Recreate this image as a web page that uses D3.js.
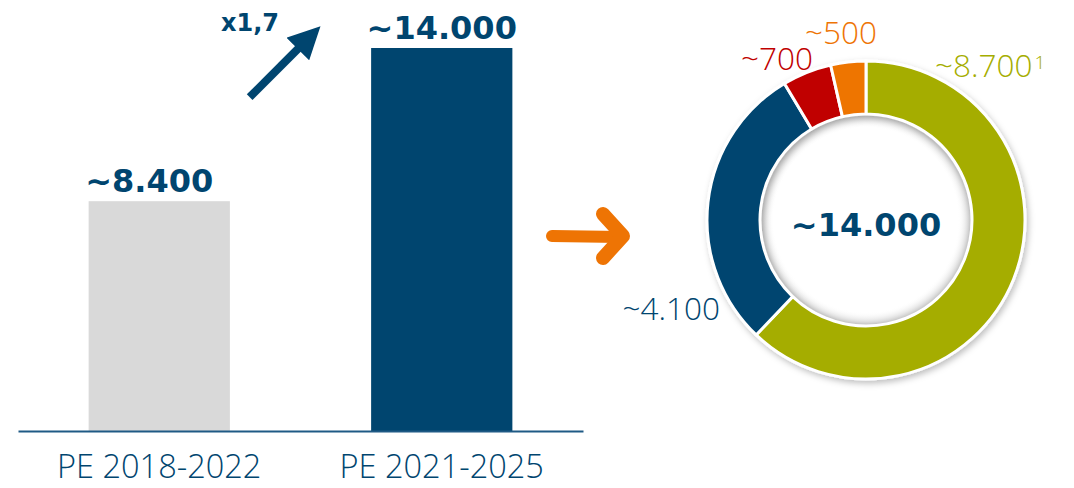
<!DOCTYPE html>
<html>
<head>
<meta charset="utf-8">
<script src="https://cdn.jsdelivr.net/npm/d3@7"></script>
<style>
  body { margin: 0; background: #fff; }
  svg { display: block; }
  text { font-family: "Open Sans", "DejaVu Sans", sans-serif; }
  .bold { font-family: "DejaVu Sans", sans-serif; font-weight: bold; }
</style>
</head>
<body>
<svg id="chart" width="1074" height="488"></svg>
<script>
// bar data
var periods = ["PE 2018-2022", "PE 2021-2025"];
var totals = [8400, 14000];
var totalLabels = ["~8.400", "~14.000"];
var growthLabel = "x1,7";

// donut data (breakdown of the second period)
var segNames = ["a", "b", "c", "d"];
var segValues = [8700, 4100, 700, 500];
var segLabels = ["~8.700", "~4.100", "~700", "~500"];
var segNotes = ["1", "", "", ""];
var centerLabel = "~14.000";

var BLUE = "#00456f";
var barColors = ["#d9d9d9", BLUE];
var segColors = ["#a5ad00", BLUE, "#c00000", "#ee7404"];

var svg = d3.select("#chart");
var defs = svg.append("defs");

/* ---- bar chart ---- */
var x = d3.scaleBand().domain(periods).range([18, 583])
          .paddingInner(0.5).paddingOuter(0.25);
var y = d3.scaleLinear().domain([0, 14000]).range([431, 48]);

var bars = svg.append("g").attr("class", "bars");
bars.selectAll("rect").data(periods).enter().append("rect")
    .attr("x", function(d){ return x(d); })
    .attr("y", function(d, i){ return y(totals[i]); })
    .attr("width", x.bandwidth())
    .attr("height", function(d, i){ return y(0) - y(totals[i]); })
    .attr("fill", function(d, i){ return barColors[i]; });

bars.selectAll("text.val").data(periods).enter().append("text")
    .attr("class", "val bold")
    .attr("x", function(d){ return x(d) + x.bandwidth()/2 - (d === periods[0] ? 10 : 0); })
    .attr("y", function(d, i){ return y(totals[i]) - 9; })
    .attr("text-anchor", "middle")
    .attr("font-size", 32)
    .attr("fill", BLUE)
    .text(function(d, i){ return totalLabels[i]; });

var xaxis = d3.axisBottom(x).tickSize(0).tickPadding(24);
var xg = svg.append("g").attr("transform", "translate(0," + y(0) + ")").call(xaxis);
xg.select(".domain").attr("stroke", "#1f5a85").attr("stroke-width", 2);
xg.selectAll(".tick text")
    .attr("font-family", "'Open Sans', sans-serif")
    .attr("font-size", 32.5)
    .attr("font-weight", 300)
    .attr("fill", BLUE)
    .attr("dy", "0.71em");

// growth arrow
var ax0 = x(periods[0]) + x.bandwidth()*1.14, ay0 = y(totals[0]) - 104;
defs.append("marker")
    .attr("id", "head").attr("viewBox", "0 0 10 10")
    .attr("refX", 3).attr("refY", 5)
    .attr("markerWidth", 4).attr("markerHeight", 4)
    .attr("orient", "auto")
  .append("path").attr("d", "M0,0L10,5L0,10Z").attr("fill", BLUE);
svg.append("line")
    .attr("x1", ax0).attr("y1", ay0)
    .attr("x2", ax0 + 55).attr("y2", ay0 - 55)
    .attr("stroke", BLUE).attr("stroke-width", 8)
    .attr("marker-end", "url(#head)");
svg.append("text").attr("class", "bold")
    .attr("x", 250).attr("y", 31)
    .attr("text-anchor", "middle")
    .attr("font-size", 24)
    .attr("fill", BLUE)
    .text(growthLabel);

// orange hand-drawn arrow
var orange = segColors[3];
svg.append("path")
    .attr("d", "M552,236L620,237")
    .attr("stroke", orange).attr("stroke-width", 12).attr("stroke-linecap", "round")
    .attr("fill", "none");
svg.append("path")
    .attr("d", "M603,214L623,236L603,258")
    .attr("stroke", orange).attr("stroke-width", 14)
    .attr("stroke-linecap", "round").attr("stroke-linejoin", "round")
    .attr("fill", "none");

/* ---- donut ---- */
var cx = 866, cy = 220, rOuter = 159, rInner = 106;
var f = defs.append("filter").attr("id", "shadow")
    .attr("x", "-20%").attr("y", "-20%").attr("width", "140%").attr("height", "140%");
f.append("feDropShadow").attr("dx", 2).attr("dy", 3).attr("stdDeviation", 3)
    .attr("flood-color", "#000").attr("flood-opacity", 0.25);

var pie = d3.pie().sort(null).value(function(d){ return d; });
var arc = d3.arc().innerRadius(rInner).outerRadius(rOuter);
var arcs = pie(segValues);

var donut = svg.append("g").attr("transform", "translate(" + cx + "," + cy + ")");
donut.append("g").attr("filter", "url(#shadow)")
  .selectAll("path").data(arcs).enter().append("path")
    .attr("d", arc)
    .attr("fill", function(d, i){ return segColors[i]; })
    .attr("stroke", "#fff").attr("stroke-width", 3);

// soft inner shadow on the hole
var grad = defs.append("radialGradient").attr("id", "innerShade");
grad.append("stop").attr("offset", "88%").attr("stop-color", "#fff").attr("stop-opacity", 0);
grad.append("stop").attr("offset", "100%").attr("stop-color", "#888").attr("stop-opacity", 0.45);
donut.append("circle").attr("r", rInner - 1.5).attr("fill", "url(#innerShade)");

donut.append("text").attr("class", "bold")
    .attr("y", 16).attr("text-anchor", "middle")
    .attr("font-size", 32).attr("fill", BLUE)
    .text(centerLabel);

// segment labels
var labelPos = [[935, 77, "start"], [720, 320, "end"], [813, 70, "end"], [841, 44, "middle"]];
segNames.forEach(function(n, i){
  var t = svg.append("text")
      .attr("x", labelPos[i][0]).attr("y", labelPos[i][1])
      .attr("text-anchor", labelPos[i][2])
      .attr("font-size", 31.5)
      .attr("font-weight", 300)
      .attr("fill", segColors[i])
      .text(segLabels[i]);
  if (segNotes[i]) {
    t.append("tspan").attr("font-size", 19).attr("dy", -8).attr("dx", 2).text(segNotes[i]);
  }
});
</script>
</body>
</html>
